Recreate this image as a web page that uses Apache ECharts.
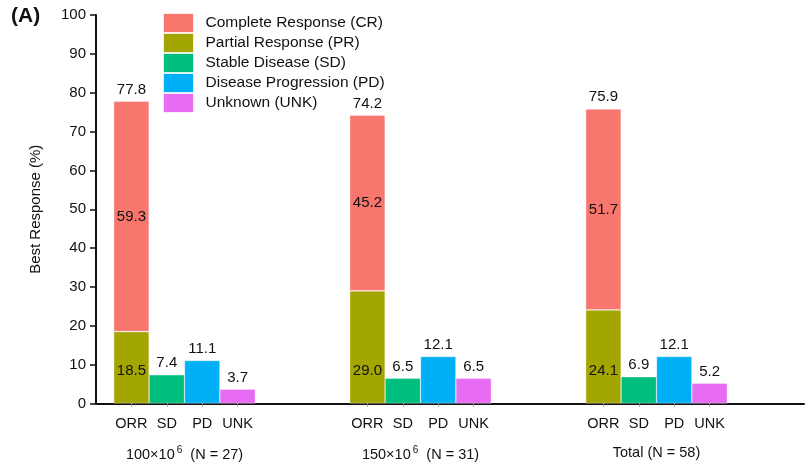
<!DOCTYPE html>
<html>
<head>
<meta charset="utf-8">
<script src="https://cdn.jsdelivr.net/npm/echarts@6/dist/echarts.min.js"></script>
<style>
  html, body { margin: 0; padding: 0; background: #fff; }
  #chart { width: 807px; height: 467px; }
</style>
</head>
<body>
<div id="chart"></div>
<script>
// Best response by dose group
const groupNames = ['100×10{sup|6}  (N = 27)', '150×10{sup|6}  (N = 31)', 'Total (N = 58)'];
const barNames = ['ORR', 'SD', 'PD', 'UNK'];
const crValues = [59.3, 45.2, 51.7];
const prValues = [18.5, 29.0, 24.1];
const orrValues = [77.8, 74.2, 75.9];
const sdValues = [7.4, 6.5, 6.9];
const pdValues = [11.1, 12.1, 12.1];
const unkValues = [3.7, 6.5, 5.2];
const yTicks = [0, 10, 20, 30, 40, 50, 60, 70, 80, 90, 100];

// The x axis is split into fine slots so the groups can be spaced apart.
const SLOT_COUNT = 61;
const GROUP_START = 3, GROUP_STEP = 20, BAR_STEP = 3;
const slotOf = (g, b) => GROUP_START + g * GROUP_STEP + b * BAR_STEP;

const slots = new Array(SLOT_COUNT).fill('');
const isBarSlot = new Array(SLOT_COUNT).fill(false);
groupNames.forEach((_, g) => barNames.forEach((n, b) => {
  slots[slotOf(g, b)] = n;
  isBarSlot[slotOf(g, b)] = true;
}));

function column(values, b) {
  const arr = new Array(SLOT_COUNT).fill(null);
  values.forEach((v, g) => { arr[slotOf(g, b)] = v; });
  return arr;
}

const FONT = "'Liberation Sans', Arial, sans-serif";
const NARROW = "'Liberation Sans Narrow', 'Arial Narrow', 'Liberation Sans', sans-serif";
const fmt = p => (p.value == null ? '' : Number(p.value).toFixed(1));

const colors = {
  CR: '#F8766D', PR: '#A3A500', SD: '#00BF7D', PD: '#00B0F6', UNK: '#E76BF3'
};

function barSeries(name, data, label) {
  return {
    name, type: 'bar', stack: 'resp', data,
    barWidth: 35.5,
    itemStyle: { color: colors[name.match(/\((\w+)\)/)[1]], borderColor: 'rgba(255,255,255,0.6)', borderWidth: 0.6 },
    label: Object.assign({ show: true, color: '#111', fontSize: 15, fontFamily: FONT, formatter: fmt }, label),
    emphasis: { disabled: true }
  };
}

const chart = echarts.init(document.getElementById('chart'), null, { renderer: 'canvas' });
chart.setOption({
  animation: false,
  backgroundColor: '#fff',
  textStyle: { fontFamily: FONT },
  title: {
    text: '(A)', left: 11, top: 6, padding: 0,
    textStyle: { fontSize: 21, fontWeight: 'bold', color: '#111', fontFamily: FONT }
  },
  legend: {
    orient: 'vertical', left: 163, top: 13, padding: 0,
    itemWidth: 30, itemHeight: 19, itemGap: 0,
    icon: 'rect',
    data: ['Complete Response (CR)', 'Partial Response (PR)', 'Stable Disease (SD)',
           'Disease Progression (PD)', 'Unknown (UNK)'],
    itemStyle: { borderColor: 'rgba(255,255,255,0.7)', borderWidth: 1 },
    textStyle: { fontSize: 15.5, color: '#111', fontFamily: FONT, padding: [0, 0, 0, 7] },
    selectedMode: false
  },
  grid: { left: 96, right: 2, top: 15, bottom: 63.5 },
  xAxis: [
    {
      type: 'category', data: slots, boundaryGap: false,
      axisLine: { lineStyle: { color: '#111', width: 2 } },
      axisTick: { show: true, length: 3, alignWithLabel: true,
                  interval: (i) => isBarSlot[i], lineStyle: { color: '#888' } },
      axisLabel: { interval: 0, margin: 13, fontSize: 14.5, color: '#111', fontFamily: NARROW },
      splitLine: { show: false }
    },
    {
      type: 'value', position: 'bottom', offset: 29,
      min: 0, max: SLOT_COUNT - 1, interval: 2.5,
      axisLine: { show: false }, axisTick: { show: false }, splitLine: { show: false },
      axisLabel: {
        margin: 13, fontSize: 14.5, color: '#111', fontFamily: NARROW,
        showMinLabel: true, showMaxLabel: true,
        formatter: (v) => {
          const g = groupNames.findIndex((_, k) => Math.abs(v - (slotOf(k, 0) + 4.5)) < 1e-6);
          return g >= 0 ? groupNames[g] : '';
        },
        rich: { sup: { fontSize: 10, verticalAlign: 'top', padding: [0, 0, 8, 2], fontFamily: NARROW, color: '#111' } }
      }
    }
  ],
  yAxis: {
    type: 'value', min: yTicks[0], max: yTicks[yTicks.length - 1], interval: 10,
    name: 'Best Response (%)', nameLocation: 'middle', nameGap: 53, nameRotate: 90,
    nameTextStyle: { fontSize: 15, color: '#111', fontFamily: FONT },
    axisLine: { show: true, lineStyle: { color: '#111', width: 2 } },
    axisTick: { show: true, length: 6, lineStyle: { color: '#111', width: 1.5 } },
    axisLabel: { fontSize: 15, color: '#111', margin: 10, fontFamily: FONT },
    splitLine: { show: false }
  },
  series: [
    barSeries('Partial Response (PR)', column(prValues, 0), { position: 'insideBottom', distance: 25 }),
    barSeries('Complete Response (CR)', column(crValues, 0), { position: 'inside' }),
    barSeries('Stable Disease (SD)', column(sdValues, 1), { position: 'top', distance: 4 }),
    barSeries('Disease Progression (PD)', column(pdValues, 2), { position: 'top', distance: 4 }),
    barSeries('Unknown (UNK)', column(unkValues, 3), { position: 'top', distance: 4 }),
    {
      name: 'ORR', type: 'scatter', data: column(orrValues, 0),
      symbolSize: 0, silent: true, itemStyle: { opacity: 1 },
      label: { show: true, position: 'top', distance: 4, color: '#111', fontSize: 15, fontFamily: FONT, formatter: fmt }
    }
  ]
});
</script>
</body>
</html>
